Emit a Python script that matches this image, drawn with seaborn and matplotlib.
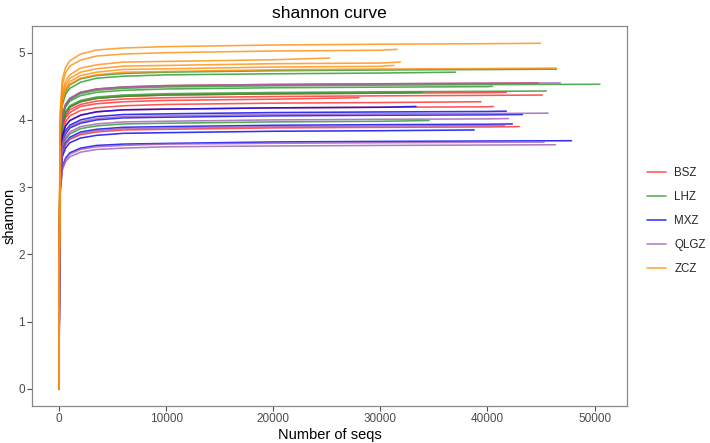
import pandas as pd
import matplotlib
matplotlib.use("Agg")
import matplotlib.pyplot as plt
import seaborn as sns

# rarefaction depths shared by every sample
depths = [0, 20, 100, 300, 600, 1000, 2000, 3500, 6000, 10000, 20000, 30000, 40000]

groups = ["BSZ", "LHZ", "MXZ", "QLGZ", "ZCZ"]
colors = ["#FF2A2A", "#2A962A", "#0000F0", "#9C5CB4", "#FF8C0A"]

# per sample: last depth, and shannon at each depth below it (final value last)
bsz_ends = [44770, 41760, 45130, 28000, 39400, 40550, 42980]
bsz_shannon = [
    [0, 1.82, 3.64, 4.07, 4.23, 4.32, 4.41, 4.46, 4.49, 4.51, 4.527, 4.537, 4.545, 4.55],
    [0, 1.76, 3.53, 3.95, 4.10, 4.19, 4.27, 4.32, 4.35, 4.37, 4.388, 4.398, 4.405, 4.41],
    [0, 1.75, 3.50, 3.91, 4.06, 4.15, 4.23, 4.28, 4.31, 4.33, 4.348, 4.358, 4.365, 4.37],
    [0, 1.73, 3.46, 3.88, 4.03, 4.11, 4.20, 4.24, 4.27, 4.29, 4.308, 4.33],
    [0, 1.71, 3.42, 3.82, 3.97, 4.06, 4.14, 4.18, 4.21, 4.23, 4.249, 4.258, 4.27],
    [0, 1.68, 3.36, 3.76, 3.91, 3.99, 4.07, 4.12, 4.15, 4.16, 4.179, 4.188, 4.195, 4.20],
    [0, 1.56, 3.12, 3.49, 3.63, 3.71, 3.78, 3.82, 3.85, 3.86, 3.881, 3.889, 3.895, 3.90],
]

lhz_ends = [46440, 37000, 50500, 40450, 45500, 33900, 34550]
lhz_shannon = [
    [0, 1.90, 3.80, 4.26, 4.42, 4.52, 4.61, 4.66, 4.69, 4.71, 4.731, 4.742, 4.749, 4.755],
    [0, 1.88, 3.77, 4.22, 4.38, 4.47, 4.56, 4.62, 4.65, 4.67, 4.686, 4.697, 4.71],
    [0, 1.81, 3.62, 4.05, 4.21, 4.30, 4.39, 4.44, 4.47, 4.49, 4.507, 4.517, 4.525, 4.53],
    [0, 1.80, 3.60, 4.03, 4.19, 4.28, 4.36, 4.41, 4.44, 4.46, 4.478, 4.487, 4.495, 4.50],
    [0, 1.77, 3.54, 3.96, 4.12, 4.21, 4.29, 4.34, 4.37, 4.39, 4.408, 4.418, 4.425, 4.43],
    [0, 1.76, 3.53, 3.95, 4.10, 4.19, 4.27, 4.32, 4.35, 4.37, 4.388, 4.398, 4.41],
    [0, 1.60, 3.19, 3.57, 3.71, 3.79, 3.87, 3.91, 3.94, 3.95, 3.970, 3.979, 3.99],
]

mxz_ends = [33330, 41760, 43260, 42320, 38760, 47850]
mxz_shannon = [
    [0, 1.68, 3.36, 3.76, 3.91, 3.99, 4.07, 4.12, 4.15, 4.16, 4.179, 4.188, 4.20],
    [0, 1.65, 3.30, 3.70, 3.84, 3.92, 4.00, 4.05, 4.08, 4.09, 4.109, 4.118, 4.125, 4.13],
    [0, 1.63, 3.26, 3.65, 3.79, 3.88, 3.95, 4.00, 4.03, 4.04, 4.060, 4.069, 4.075, 4.08],
    [0, 1.58, 3.15, 3.53, 3.66, 3.74, 3.82, 3.86, 3.89, 3.90, 3.920, 3.929, 3.935, 3.94],
    [0, 1.54, 3.08, 3.45, 3.58, 3.66, 3.73, 3.77, 3.80, 3.81, 3.831, 3.839, 3.85],
    [0, 1.48, 2.95, 3.30, 3.43, 3.51, 3.58, 3.62, 3.64, 3.65, 3.672, 3.680, 3.686, 3.69],
]

qlgz_ends = [46800, 45660, 41950, 41600, 45300, 46350]
qlgz_shannon = [
    [0, 1.82, 3.64, 4.07, 4.23, 4.32, 4.41, 4.46, 4.49, 4.51, 4.527, 4.537, 4.545, 4.55],
    [0, 1.64, 3.28, 3.67, 3.81, 3.90, 3.97, 4.02, 4.05, 4.06, 4.080, 4.089, 4.095, 4.10],
    [0, 1.61, 3.22, 3.60, 3.74, 3.82, 3.90, 3.94, 3.97, 3.98, 4.000, 4.009, 4.015, 4.02],
    [0, 1.57, 3.14, 3.51, 3.65, 3.72, 3.80, 3.84, 3.87, 3.88, 3.900, 3.909, 3.915, 3.92],
    [0, 1.47, 2.94, 3.28, 3.41, 3.49, 3.56, 3.60, 3.62, 3.64, 3.652, 3.660, 3.666, 3.67],
    [0, 1.45, 2.90, 3.25, 3.38, 3.45, 3.52, 3.56, 3.58, 3.60, 3.612, 3.620, 3.626, 3.63],
]

zcz_ends = [44940, 31560, 25280, 31860, 31270, 46440]
zcz_shannon = [
    [0, 2.06, 4.11, 4.60, 4.78, 4.88, 4.98, 5.04, 5.07, 5.09, 5.114, 5.126, 5.134, 5.14],
    [0, 2.02, 4.04, 4.52, 4.70, 4.80, 4.89, 4.95, 4.98, 5.00, 5.025, 5.036, 5.05],
    [0, 1.97, 3.94, 4.40, 4.58, 4.67, 4.77, 4.82, 4.86, 4.87, 4.895, 4.92],
    [0, 1.94, 3.89, 4.35, 4.52, 4.62, 4.71, 4.76, 4.80, 4.81, 4.836, 4.846, 4.86],
    [0, 1.92, 3.85, 4.30, 4.47, 4.57, 4.66, 4.71, 4.75, 4.76, 4.786, 4.797, 4.81],
    [0, 1.91, 3.82, 4.27, 4.44, 4.53, 4.62, 4.67, 4.71, 4.72, 4.746, 4.757, 4.764, 4.77],
]

all_ends = [bsz_ends, lhz_ends, mxz_ends, qlgz_ends, zcz_ends]
all_shannon = [bsz_shannon, lhz_shannon, mxz_shannon, qlgz_shannon, zcz_shannon]

rows = []
for g, ends, curves in zip(groups, all_ends, all_shannon):
    for i, (end, vals) in enumerate(zip(ends, curves)):
        xs = depths[:len(vals) - 1] + [end]
        for x, y in zip(xs, vals):
            rows.append({"group": g, "sample": f"{g}{i + 1}", "seqs": x, "shannon": y})
df = pd.DataFrame(rows)

sns.set_theme(style="white")
plt.rcParams["font.family"] = ["Liberation Sans", "DejaVu Sans"]

fig = plt.figure(figsize=(7.1, 4.43), dpi=100)
ax = fig.add_axes([32 / 710, 1 - 406 / 443, 595 / 710, 380 / 443])

sns.lineplot(data=df, x="seqs", y="shannon", hue="group", units="sample",
             estimator=None, palette=dict(zip(groups, colors)), hue_order=groups,
             linewidth=1.15, alpha=0.8, sort=False, ax=ax, legend=False)

ax.set_xlim(-2530, 53030)
ax.set_ylim(-0.257, 5.397)
ax.set_xticks([0, 10000, 20000, 30000, 40000, 50000])
ax.set_yticks([0, 1, 2, 3, 4, 5])
ax.tick_params(axis="both", length=3.5, width=0.8, color="#4D4D4D",
               labelsize=8.5, labelcolor="#4D4D4D", pad=1.5, bottom=True, left=True)
for sp in ax.spines.values():
    sp.set_color("#888888")
    sp.set_linewidth(0.9)

ax.set_xlabel("Number of seqs", fontsize=10.5, color="black", labelpad=2)
ax.set_ylabel("shannon", fontsize=10.5, color="black")
ax.yaxis.set_label_coords(-0.026, 0.5)
ax.set_title("shannon curve", fontsize=12.5, color="black", pad=6)

handles = [plt.Line2D([], [], color=c, lw=1.15, alpha=0.8) for c in colors]
fig.legend(handles, groups, loc="center left", bbox_to_anchor=(642 / 710, 1 - 221 / 443),
           frameon=False, fontsize=8.3, handlelength=1.7, handletextpad=0.7,
           labelspacing=1.05, borderaxespad=0)

fig.savefig("out.png", dpi=100)
